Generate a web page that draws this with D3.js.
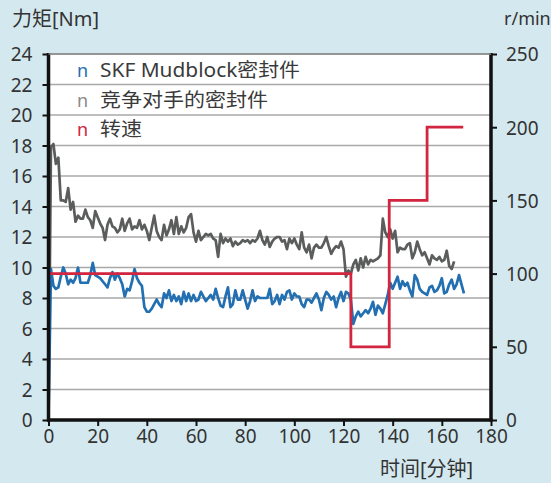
<!DOCTYPE html>
<html>
<head>
<meta charset="utf-8">
<script src="https://cdn.jsdelivr.net/npm/d3@7"></script>
<style>
html,body{margin:0;padding:0;background:#d3e9ef;}
svg{display:block;font-family:"Noto Sans","Noto Sans CJK SC",sans-serif;}
</style>
</head>
<body>
<svg id="chart" width="551" height="483"></svg>
<script>
// ---- data ----
const minutes = d3.range(0, 170); // sample times in minutes (1-minute steps)
const skfTorque = [
0,9.9,8.8,8.6,8.7,9.4,10.0,9.6,8.9,9.2,
9.0,9.3,10.0,9.0,9.0,9.0,9.0,9.5,10.3,9.5,
9.4,9.3,9.1,8.9,8.7,9.3,9.7,9.2,9.6,9.3,
8.9,8.1,8.6,8.5,9.1,9.9,9.3,9.0,8.8,7.4,
7.1,7.1,7.3,7.6,7.9,7.6,7.4,8.3,8.0,8.5,
7.8,8.2,7.8,8.1,7.6,8.4,7.8,8.3,7.8,8.2,
7.8,7.9,8.4,8.1,7.8,8.0,8.2,7.9,8.6,8.0,
7.5,7.4,8.1,8.7,7.4,7.6,8.5,7.9,7.9,8.5,
7.9,7.3,7.8,8.5,7.8,8.1,8.0,8.0,8.0,8.0,
8.6,7.6,7.8,8.2,7.6,8.2,7.9,8.4,8.5,7.9,
8.3,8.1,8.1,7.6,7.4,7.9,7.9,7.7,8.0,8.3,
7.9,7.2,8.0,8.4,8.2,7.9,8.1,7.4,8.0,8.4,
7.8,8.4,8.3,7.9,6.3,6.8,7.1,6.8,7.0,7.2,
7.0,7.3,7.75,6.9,7.5,7.3,7.0,7.6,8.2,9.0,
8.6,9.0,9.4,8.6,9.1,8.8,9.0,8.5,8.1,9.5,
9.2,8.6,8.4,8.3,8.2,8.7,8.8,8.4,8.5,8.8,
9.3,8.3,8.4,8.9,9.2,8.6,8.9,9.5,8.9,8.3
];
const rivalTorque = [
0,17.9,18.1,16.8,17.2,14.4,14.4,14.3,15.2,13.8,
14.3,13.0,13.4,13.2,13.2,13.8,13.3,13.1,12.6,13.7,
13.3,12.9,12.6,11.8,12.8,13.2,12.7,12.6,12.3,12.5,
13.2,12.4,12.9,13.2,12.5,12.7,12.6,13.1,12.5,12.8,
12.4,11.8,12.6,13.4,12.4,12.0,11.8,12.8,12.1,12.5,
13.1,12.2,13.3,12.2,12.7,12.3,12.6,13.3,13.5,12.3,
11.7,12.4,11.8,12.0,12.2,12.1,12.2,11.9,11.8,10.7,
12.2,11.6,11.9,11.7,11.9,11.4,11.7,11.5,11.6,11.8,
11.7,11.8,11.6,11.8,11.7,11.9,12.4,11.8,11.5,12.0,
11.35,11.7,11.9,12.0,12.0,11.7,11.8,11.2,11.9,11.6,
11.9,11.5,11.2,12.3,11.3,11.0,11.5,10.6,11.3,11.5,
11.3,11.3,11.6,12.0,11.4,10.9,11.2,11.4,11.3,11.7,
11.2,9.4,9.8,9.6,10.2,10.5,9.8,10.6,10.0,10.7,
10.2,10.5,10.4,10.5,10.6,10.8,13.2,12.3,12.0,12.5,
11.9,12.4,11.0,11.3,11.2,11.2,11.5,11.6,10.6,11.0,
11.7,11.2,10.8,11.0,10.6,10.2,10.8,10.6,10.5,10.7,
10.4,10.5,11.1,10.1,9.9,10.4
];
const speedTimes = [0, 123, 123, 138.6, 138.6, 154, 154, 168.7];
const speedRpm   = [100, 100, 50, 50, 150, 150, 200, 200];

const torqueTicks = d3.range(0, 25, 2);
const speedTicks = [0, 50, 100, 150, 200, 250];
const timeTicks = d3.range(0, 181, 20);

const legendLabels = ["SKF Mudblock密封件", "竞争对手的密封件", "转速"];
const legendWidths = [200, 168, 42];
const colors = { skf: "#226fb1", rival: "#5b5c5c", speed: "#d2253f", rivalMark: "#8a8a8a" };

// ---- layout ----
const svg = d3.select("#chart");
const L = 48.5, R = 491, T = 54, B = 420;
const x = d3.scaleLinear().domain([0, 180]).range([L, R]);
const y = d3.scaleLinear().domain([0, 24]).range([B, T]);
const y2 = d3.scaleLinear().domain([0, 250]).range([B, T]);

svg.append("rect").attr("x", L).attr("y", T).attr("width", R - L).attr("height", B - T).attr("fill", "#fff");

// gridlines
svg.append("g").selectAll("line").data(torqueTicks.filter(d => d > 0)).join("line")
  .attr("x1", L).attr("x2", R).attr("y1", d => y(d)).attr("y2", d => y(d))
  .attr("stroke", "#a9a9a9").attr("stroke-width", 1.6);

// legend
const lg = svg.append("g").attr("font-size", 19).attr("fill", "#3a3a3a");
const legendColors = [colors.skf, colors.rivalMark, colors.speed];
legendLabels.forEach((lab, i) => {
  const yy = 77 + i * 29.5;
  lg.append("text").attr("x", 77).attr("y", yy).attr("fill", legendColors[i]).attr("font-size", 18).text("n");
  lg.append("text").attr("x", 100).attr("y", yy).attr("textLength", legendWidths[i])
    .attr("lengthAdjust", "spacingAndGlyphs").text(lab);
});

// lines
const line = d3.line().x((d, i) => x(minutes[i])).y(d => y(d));
svg.append("path").datum(rivalTorque).attr("d", line).attr("fill", "none")
  .attr("stroke", colors.rival).attr("stroke-width", 2.7).attr("stroke-linejoin", "round");
svg.append("path").datum(skfTorque).attr("d", line).attr("fill", "none")
  .attr("stroke", colors.skf).attr("stroke-width", 2.7).attr("stroke-linejoin", "round");
const sline = d3.line().x((d, i) => x(speedTimes[i])).y(d => y2(d));
svg.append("path").datum(speedRpm).attr("d", sline).attr("fill", "none")
  .attr("stroke", colors.speed).attr("stroke-width", 2.8);

// axes
const txtColor = "#333";
function styleAxis(g) {
  g.select(".domain").remove();
  g.selectAll(".tick line").attr("stroke", "#111").attr("stroke-width", 2);
  g.selectAll(".tick text").attr("fill", txtColor).attr("font-size", 19)
    .attr("font-family", "'Noto Sans', sans-serif");
}
const gl = svg.append("g").attr("transform", `translate(${L},0)`)
  .call(d3.axisLeft(y).tickValues(torqueTicks).tickSize(6).tickPadding(10));
styleAxis(gl);
gl.selectAll(".tick text").attr("dy", "0.36em");
const gr = svg.append("g").attr("transform", `translate(${R},0)`)
  .call(d3.axisRight(y2).tickValues(speedTicks).tickSize(6).tickPadding(9));
styleAxis(gr);
gr.selectAll(".tick text").attr("dy", "0.36em");
const gb = svg.append("g").attr("transform", `translate(0,${B})`)
  .call(d3.axisBottom(x).tickValues(timeTicks).tickSize(6).tickPadding(4));
styleAxis(gb);

// axis frame lines
svg.append("line").attr("x1", L).attr("x2", L).attr("y1", T - 1).attr("y2", B + 1.5).attr("stroke", "#111").attr("stroke-width", 3.5);
svg.append("line").attr("x1", R).attr("x2", R).attr("y1", T - 1).attr("y2", B + 1.5).attr("stroke", "#111").attr("stroke-width", 3.5);
svg.append("line").attr("x1", L - 1.5).attr("x2", R + 1.5).attr("y1", B).attr("y2", B).attr("stroke", "#111").attr("stroke-width", 3.5);
svg.append("line").attr("x1", L).attr("x2", R).attr("y1", T).attr("y2", T).attr("stroke", "#888").attr("stroke-width", 1.5);

// titles
svg.append("text").attr("x", 12).attr("y", 26).attr("font-size", 20).attr("fill", txtColor).text("力矩[Nm]");
svg.append("text").attr("x", 504).attr("y", 25).attr("font-size", 18).attr("fill", txtColor).text("r/min");
svg.append("text").attr("x", 380).attr("y", 476).attr("font-size", 20).attr("fill", txtColor).text("时间[分钟]");
</script>
</body>
</html>
